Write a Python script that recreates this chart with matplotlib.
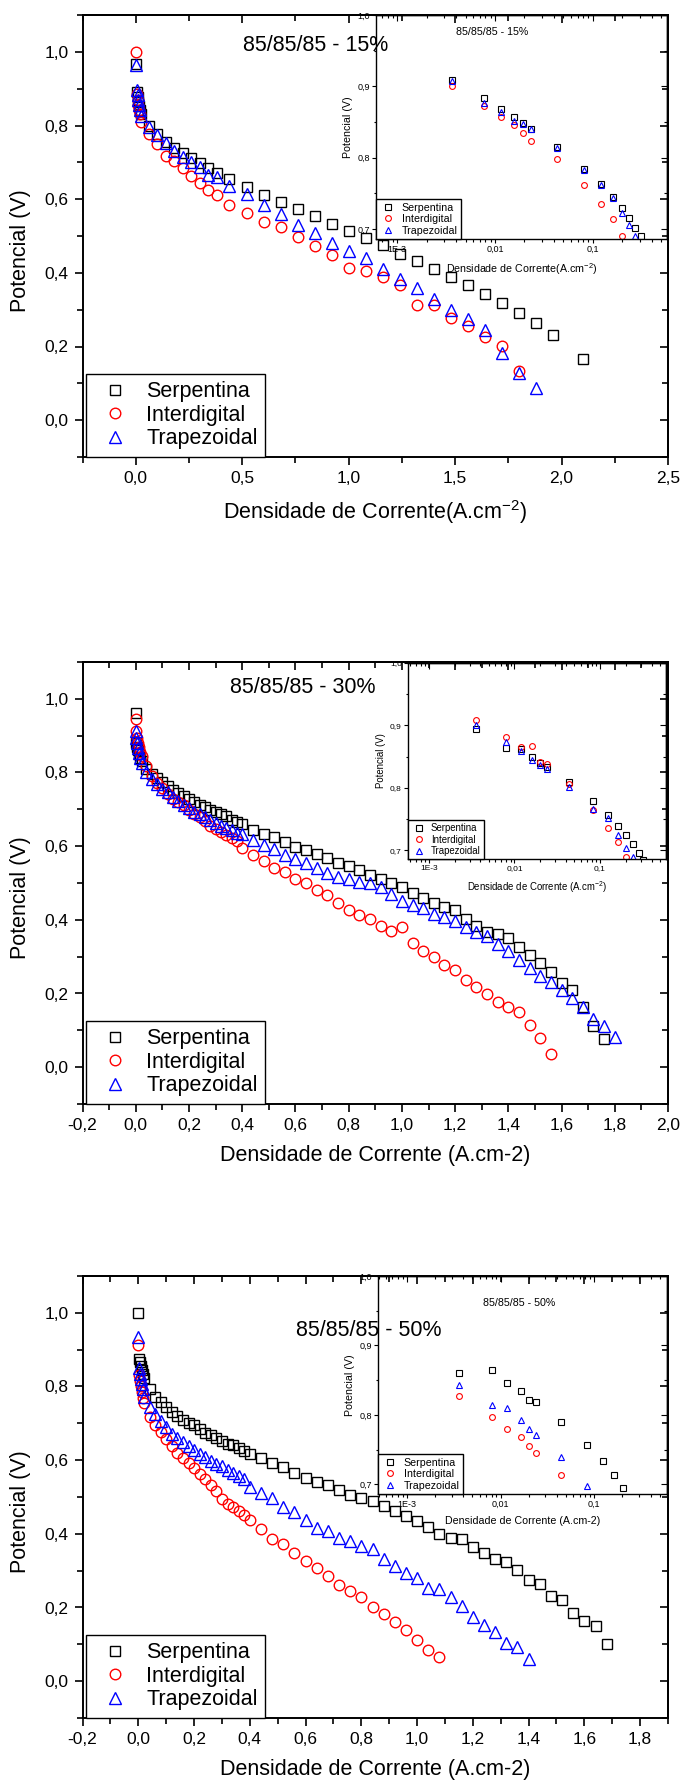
import numpy as np
import matplotlib
matplotlib.use("Agg")
import matplotlib.pyplot as plt
from matplotlib.ticker import MultipleLocator, FixedLocator, FuncFormatter, LogLocator, NullFormatter

plt.rcParams['font.family'] = ['Liberation Sans', 'DejaVu Sans']
plt.rcParams['mathtext.fontset'] = 'custom'
plt.rcParams['mathtext.rm'] = 'Liberation Sans'
plt.rcParams['mathtext.it'] = 'Liberation Sans:italic'
plt.rcParams['mathtext.bf'] = 'Liberation Sans:bold'

# ---------------- data: main plots ----------------
labels = ["Serpentina", "Interdigital", "Trapezoidal"]

# 85/85/85 - 15%
x15 = [0, 0.004, 0.008, 0.012, 0.016, 0.020, 0.026, 0.06, 0.10, 0.14, 0.18, 0.22, 0.26,
       0.30, 0.34, 0.38, 0.44, 0.52, 0.60, 0.68, 0.76, 0.84, 0.92, 1.00, 1.08, 1.16,
       1.24, 1.32, 1.40, 1.48, 1.56, 1.64, 1.72, 1.80, 1.88, 1.96, 2.10]
serp15 = [0.967, 0.89, 0.878, 0.865, 0.853, 0.843, 0.83, 0.80, 0.777, 0.755, 0.738, 0.726,
          0.711, 0.697, 0.685, 0.672, 0.656, 0.633, 0.611, 0.591, 0.573, 0.553, 0.533,
          0.514, 0.494, 0.475, 0.452, 0.431, 0.410, 0.388, 0.367, 0.343, 0.319, 0.292,
          0.263, 0.230, 0.166]
inter15 = [1.0, 0.885, 0.87, 0.855, 0.843, 0.83, 0.809, 0.777, 0.75, 0.718, 0.703, 0.685,
           0.663, 0.644, 0.625, 0.61, 0.584, 0.563, 0.538, 0.524, 0.497, 0.473, 0.448,
           0.414, 0.405, 0.388, 0.368, 0.314, 0.312, 0.278, 0.256, 0.225, 0.202, 0.134]
trap15 = [0.964, 0.896, 0.882, 0.868, 0.855, 0.841, 0.827, 0.795, 0.775, 0.752, 0.731,
          0.715, 0.701, 0.686, 0.665, 0.660, 0.636, 0.613, 0.584, 0.560, 0.531, 0.509,
          0.480, 0.458, 0.439, 0.410, 0.383, 0.358, 0.330, 0.298, 0.275, 0.246, 0.181,
          0.127, 0.087]

# 85/85/85 - 30%
x30 = [0, 0.002, 0.005, 0.009, 0.013, 0.017, 0.022,
       0.04, 0.06, 0.08, 0.10, 0.12, 0.14, 0.16, 0.18, 0.20, 0.22, 0.24, 0.26, 0.28, 0.30,
       0.32, 0.34, 0.36, 0.38, 0.40,
       0.44, 0.48, 0.52, 0.56, 0.60, 0.64, 0.68, 0.72, 0.76, 0.80, 0.84, 0.88, 0.92, 0.96,
       1.00, 1.04, 1.08, 1.12, 1.16, 1.20, 1.24, 1.28, 1.32, 1.36, 1.40, 1.44, 1.48, 1.52,
       1.56, 1.60, 1.64, 1.68, 1.72, 1.76, 1.80]
serp30 = [0.961, 0.88, 0.87, 0.86, 0.85, 0.84, 0.83,
          0.81, 0.795, 0.785, 0.773, 0.762, 0.752, 0.743, 0.735, 0.727, 0.720, 0.712, 0.705,
          0.699, 0.694, 0.688, 0.681, 0.672, 0.665, 0.660,
          0.645, 0.633, 0.624, 0.610, 0.599, 0.589, 0.579, 0.567, 0.555, 0.546, 0.535, 0.522,
          0.511, 0.501, 0.489, 0.474, 0.460, 0.446, 0.436, 0.426, 0.402, 0.382, 0.368, 0.361,
          0.351, 0.327, 0.304, 0.282, 0.258, 0.229, 0.209, 0.163, 0.113, 0.076]
inter30 = [0.946, 0.912, 0.895, 0.88, 0.868, 0.856, 0.845,
           0.818, 0.79, 0.771, 0.757, 0.742, 0.729, 0.72, 0.711, 0.699, 0.688, 0.679, 0.668,
           0.656, 0.647, 0.638, 0.631, 0.623, 0.614, 0.595,
           0.577, 0.559, 0.541, 0.530, 0.512, 0.499, 0.482, 0.467, 0.446, 0.426, 0.413, 0.402,
           0.382, 0.371, 0.380, 0.337, 0.316, 0.298, 0.277, 0.264, 0.236, 0.217, 0.199, 0.178,
           0.163, 0.151, 0.115, 0.078, 0.037]
trap30 = [0.912, 0.895, 0.88, 0.866, 0.852, 0.84, 0.826,
          0.80, 0.783, 0.768, 0.756, 0.746, 0.734, 0.723, 0.713, 0.704, 0.694, 0.687, 0.679,
          0.671, 0.663, 0.656, 0.650, 0.643, 0.637, 0.632,
          0.616, 0.604, 0.591, 0.577, 0.564, 0.553, 0.540, 0.528, 0.517, 0.511, 0.503, 0.499,
          0.489, 0.470, 0.452, 0.441, 0.433, 0.416, 0.407, 0.397, 0.380, 0.368, 0.355, 0.334,
          0.316, 0.290, 0.268, 0.248, 0.232, 0.209, 0.188, 0.163, 0.132, 0.112, 0.081]

# 85/85/85 - 50%
x50 = [0, 0.002, 0.005, 0.009, 0.013, 0.017, 0.022,
       0.04, 0.06, 0.08, 0.10, 0.12, 0.14, 0.16, 0.18, 0.20, 0.22, 0.24, 0.26, 0.28, 0.30,
       0.32, 0.34, 0.36, 0.38, 0.40,
       0.44, 0.48, 0.52, 0.56, 0.60, 0.64, 0.68, 0.72, 0.76, 0.80, 0.84, 0.88, 0.92, 0.96,
       1.00, 1.04, 1.08, 1.12, 1.16, 1.20, 1.24, 1.28, 1.32, 1.36, 1.40, 1.44, 1.48, 1.52,
       1.56, 1.60, 1.64, 1.68]
serp50 = [1.0, 0.875, 0.866, 0.855, 0.845, 0.833, 0.822,
          0.793, 0.772, 0.757, 0.743, 0.731, 0.721, 0.710, 0.702, 0.695, 0.685, 0.673, 0.667,
          0.660, 0.653, 0.645, 0.640, 0.634, 0.626, 0.617,
          0.605, 0.593, 0.581, 0.566, 0.552, 0.541, 0.532, 0.520, 0.505, 0.496, 0.488, 0.476,
          0.461, 0.449, 0.436, 0.418, 0.400, 0.390, 0.385, 0.363, 0.348, 0.331, 0.324, 0.301,
          0.276, 0.263, 0.231, 0.220, 0.185, 0.164, 0.149, 0.101]
inter50 = [0.912, 0.83, 0.815, 0.80, 0.785, 0.77, 0.755,
           0.716, 0.695, 0.676, 0.657, 0.638, 0.62, 0.607, 0.593, 0.580, 0.562, 0.548, 0.533,
           0.517, 0.495, 0.481, 0.472, 0.461, 0.450, 0.438,
           0.413, 0.387, 0.373, 0.347, 0.326, 0.306, 0.286, 0.261, 0.245, 0.228, 0.201, 0.182,
           0.160, 0.140, 0.111, 0.084, 0.066]
trap50 = [0.934, 0.85, 0.835, 0.82, 0.806, 0.792, 0.772,
          0.745, 0.725, 0.705, 0.69, 0.672, 0.659, 0.648, 0.638, 0.627, 0.617, 0.608, 0.598,
          0.590, 0.583, 0.573, 0.566, 0.558, 0.549, 0.527,
          0.512, 0.496, 0.474, 0.458, 0.438, 0.415, 0.407, 0.390, 0.380, 0.367, 0.358, 0.332,
          0.312, 0.294, 0.279, 0.253, 0.250, 0.228, 0.203, 0.174, 0.152, 0.134, 0.103, 0.093,
          0.059]

# ---------------- data: log insets ----------------
ix15 = [0.0036, 0.0078, 0.0114, 0.0158, 0.0195, 0.0232, 0.0425, 0.0815, 0.121, 0.159,
        0.198, 0.236, 0.271, 0.313]
iserp15 = [0.909, 0.883, 0.868, 0.857, 0.849, 0.840, 0.815, 0.784, 0.763, 0.745, 0.729,
           0.715, 0.702, 0.690]
iinter15 = [0.900, 0.872, 0.857, 0.846, 0.834, 0.823, 0.798, 0.761, 0.735, 0.714, 0.690]
itrap15 = [0.907, 0.876, 0.864, 0.851, 0.847, 0.840, 0.814, 0.783, 0.762, 0.743, 0.723,
           0.706, 0.690]

ix30 = [0.0036, 0.0080, 0.0118, 0.0162, 0.0200, 0.0240, 0.0434, 0.0835, 0.123, 0.164,
        0.201, 0.243, 0.283, 0.321]
iserp30 = [0.895, 0.864, 0.862, 0.850, 0.840, 0.833, 0.809, 0.779, 0.757, 0.739, 0.724,
           0.710, 0.695, 0.684]
iinter30 = [0.909, 0.882, 0.865, 0.867, 0.842, 0.838, 0.806, 0.764, 0.736, 0.713, 0.690]
itrap30 = [0.901, 0.873, 0.859, 0.844, 0.837, 0.830, 0.801, 0.766, 0.752, 0.724, 0.704,
           0.690]

ix50 = [0.0036, 0.0081, 0.0118, 0.0164, 0.0201, 0.0240, 0.0439, 0.084, 0.124, 0.164, 0.205]
iserp50 = [0.861, 0.864, 0.846, 0.834, 0.822, 0.818, 0.790, 0.756, 0.733, 0.713, 0.695]
iinter50 = [0.827, 0.797, 0.779, 0.768, 0.755, 0.745, 0.713]
itrap50 = [0.843, 0.814, 0.810, 0.792, 0.779, 0.771, 0.740, 0.698]

markers = [("s", "black", 7.0), ("o", "red", 7.6), ("^", "blue", 8.6)]

W, H = 680, 1784
fig = plt.figure(figsize=(W / 100, H / 100), dpi=100)


def px(l, t, r, b):
    return [l / W, 1 - b / H, (r - l) / W, (b - t) / H]


def comma(v, pos=None):
    return f"{v:.1f}".replace(".", ",")


def logfmt(v, pos=None):
    if v < 0.005:
        return "1E-3"
    if v < 0.05:
        return "0,01"
    return "0,1"


def main_panel(rect, xlim, xmaj, xmin, xs, ys_list, title, txy, xlabel):
    ax = fig.add_axes(rect)
    for lab, ys, (mk, col, ms) in zip(labels, ys_list, markers):
        ax.plot(xs[:len(ys)], ys, ls="none", marker=mk, ms=ms, mfc="none", mec=col,
                mew=1.0, label=lab, clip_on=False)
    ax.set_xlim(*xlim)
    ax.set_ylim(-0.1, 1.1)
    ax.xaxis.set_major_locator(MultipleLocator(xmaj))
    ax.xaxis.set_minor_locator(MultipleLocator(xmin))
    ax.yaxis.set_major_locator(MultipleLocator(0.2))
    ax.yaxis.set_minor_locator(MultipleLocator(0.1))
    ax.xaxis.set_major_formatter(FuncFormatter(comma))
    ax.yaxis.set_major_formatter(FuncFormatter(comma))
    ax.tick_params(which="both", direction="out", width=1.2, labelsize=12.5, pad=4)
    ax.tick_params(which="major", length=6)
    ax.tick_params(which="minor", length=4)
    for s in ax.spines.values():
        s.set_linewidth(1.4)
    sx = ax.secondary_xaxis("top")
    sx.xaxis.set_major_locator(MultipleLocator(xmaj))
    sx.xaxis.set_minor_locator(MultipleLocator(xmin))
    sx.tick_params(which="both", direction="in", labeltop=False, width=1.2)
    sx.tick_params(which="major", length=6)
    sx.tick_params(which="minor", length=4)
    sx.spines["top"].set_linewidth(1.4)
    sy = ax.secondary_yaxis("right")
    sy.yaxis.set_major_locator(MultipleLocator(0.2))
    sy.yaxis.set_minor_locator(MultipleLocator(0.1))
    sy.tick_params(which="both", direction="in", labelright=False, width=1.2)
    sy.tick_params(which="major", length=6)
    sy.tick_params(which="minor", length=4)
    sy.spines["right"].set_linewidth(1.4)

    ax.set_xlabel(xlabel, fontsize=15.5, labelpad=9)
    ax.set_ylabel("Potencial (V)", fontsize=15.5)
    ax.yaxis.set_label_coords(-0.088, 0.468)
    ax.text(txy[0], txy[1], title, ha="center", va="center", fontsize=15.5)
    leg = ax.legend(loc="lower left", bbox_to_anchor=(0.006, 0.0), borderaxespad=0,
                    fontsize=15.5, fancybox=False, edgecolor="black", framealpha=1,
                    handlelength=2.0, handletextpad=0.45, labelspacing=0.12,
                    borderpad=0.35, numpoints=1)
    leg.get_frame().set_linewidth(1.0)
    return ax


def inset_panel(rect, xlim, xs, ys_list, title, txy, xlabel, fs, tfs):
    ia = fig.add_axes(rect, facecolor="none")
    ia.set_xscale("log")
    for lab, ys, (mk, col, ms) in zip(labels, ys_list, markers):
        ia.plot(xs[:len(ys)], ys, ls="none", marker=mk, ms=ms * 0.55, mfc="none",
                mec=col, mew=0.8, label=lab)
    ia.set_xlim(*xlim)
    ia.set_ylim(0.686, 1.0)
    ia.xaxis.set_major_locator(FixedLocator([1e-3, 1e-2, 1e-1]))
    ia.xaxis.set_major_formatter(FuncFormatter(logfmt))
    ia.xaxis.set_minor_locator(LogLocator(subs=np.arange(2, 10)))
    ia.xaxis.set_minor_formatter(NullFormatter())
    ia.yaxis.set_major_locator(FixedLocator([0.7, 0.8, 0.9, 1.0]))
    ia.yaxis.set_minor_locator(FixedLocator([0.75, 0.85, 0.95]))
    ia.yaxis.set_major_formatter(FuncFormatter(comma))
    ia.tick_params(which="both", direction="out", width=0.8, labelsize=tfs, pad=1.5)
    ia.tick_params(which="major", length=3)
    ia.tick_params(which="minor", length=1.8)
    for s in ia.spines.values():
        s.set_linewidth(1.0)
    sx = ia.secondary_xaxis("top")
    sx.xaxis.set_major_locator(FixedLocator([1e-3, 1e-2, 1e-1]))
    sx.xaxis.set_minor_locator(LogLocator(subs=np.arange(2, 10)))
    sx.tick_params(which="both", direction="in", labeltop=False, width=0.8)
    sx.tick_params(which="major", length=4)
    sx.tick_params(which="minor", length=2)
    sx.spines["top"].set_linewidth(1.0)
    sy = ia.secondary_yaxis("right")
    sy.yaxis.set_major_locator(FixedLocator([0.7, 0.8, 0.9, 1.0]))
    sy.yaxis.set_minor_locator(FixedLocator([0.75, 0.85, 0.95]))
    sy.tick_params(which="both", direction="in", labelright=False, width=0.8)
    sy.tick_params(which="major", length=4)
    sy.tick_params(which="minor", length=2)
    sy.spines["right"].set_linewidth(1.0)

    ia.set_xlabel(xlabel, fontsize=fs, labelpad=5)
    ia.set_ylabel("Potencial (V)", fontsize=fs, labelpad=3)
    if title:
        ia.text(txy[0], txy[1], title, transform=ia.transAxes, ha="center", va="center",
                fontsize=fs)
    leg = ia.legend(loc="lower left", bbox_to_anchor=(0, 0), borderaxespad=0,
                    fontsize=fs, fancybox=False, edgecolor="black", framealpha=1,
                    handlelength=1.6, handletextpad=0.5, labelspacing=0.15,
                    borderpad=0.3, numpoints=1)
    leg.get_frame().set_linewidth(1.0)
    return ia


sup = r"$^{\mathregular{-2}}$"

main_panel(px(82.6, 15, 668, 457), (-0.25, 2.5), 0.5, 0.25, x15,
           [serp15, inter15, trap15], "85/85/85 - 15%", (0.843, 1.016),
           "Densidade de Corrente(A.cm" + sup + ")")
inset_panel(px(376, 15, 667, 239), (6.1e-4, 0.57), ix15,
            [iserp15, iinter15, itrap15], "85/85/85 - 15%", (0.40, 0.924),
            "Densidade de Corrente(A.cm" + sup + ")", 7.7, 6.5)

main_panel(px(82.6, 662, 668, 1104), (-0.2, 2.0), 0.2, 0.1, x30,
           [serp30, inter30, trap30], "85/85/85 - 30%", (0.629, 1.031),
           "Densidade de Corrente (A.cm-2)")
inset_panel(px(408, 663, 666, 859), (5.7e-4, 0.59), ix30,
            [iserp30, iinter30, itrap30], None, None,
            "Densidade de Corrente (A.cm" + sup + ")", 6.9, 6.0)

main_panel(px(82.6, 1276, 668, 1718), (-0.2, 1.9), 0.2, 0.1, x50,
           [serp50, inter50, trap50], "85/85/85 - 50%", (0.828, 0.951),
           "Densidade de Corrente (A.cm-2)")
inset_panel(px(378, 1276, 667, 1494), (4.9e-4, 0.60), ix50,
            [iserp50, iinter50, itrap50], "85/85/85 - 50%", (0.49, 0.876),
            "Densidade de Corrente (A.cm-2)", 7.7, 6.5)

fig.savefig("out.png", dpi=100)
